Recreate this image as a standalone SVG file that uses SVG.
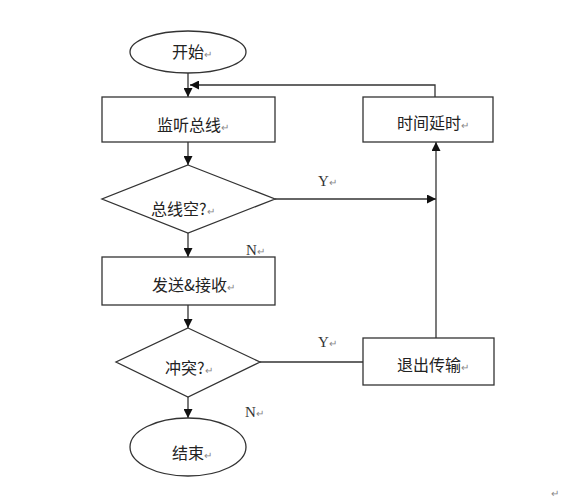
<svg xmlns="http://www.w3.org/2000/svg" width="565" height="501" viewBox="0 0 565 501">
<style>
.s{fill:#fff;stroke:#333;stroke-width:1.3}
.c{fill:none;stroke:#333;stroke-width:1.3}
.t{font-family:"Noto Sans CJK SC","Liberation Sans",sans-serif;font-size:16px;fill:#222}
.l{font-family:"Liberation Serif",serif;font-size:15px;fill:#333}
.r{font-size:10px;fill:#888}
</style>
<defs>
<marker id="a" viewBox="0 0 10 10" refX="10" refY="5" markerWidth="9" markerHeight="9" markerUnits="userSpaceOnUse" orient="auto">
<path d="M0,0L10,5L0,10z" fill="#111"/>
</marker>
</defs>
<rect width="565" height="501" fill="#fff"/>
<g id="connectors">
<line class="c" x1="188" y1="73" x2="188" y2="97" marker-end="url(#a)"/>
<polyline class="c" points="435,97 435,85 190,85" marker-end="url(#a)"/>
<line class="c" x1="188" y1="142" x2="188" y2="165" marker-end="url(#a)"/>
<line class="c" x1="275" y1="199" x2="436" y2="199" marker-end="url(#a)"/>
<line class="c" x1="188" y1="233" x2="188" y2="257" marker-end="url(#a)"/>
<line class="c" x1="188" y1="305" x2="188" y2="328" marker-end="url(#a)"/>
<line class="c" x1="260" y1="362" x2="363" y2="362"/>
<line class="c" x1="436" y1="338" x2="436" y2="142" marker-end="url(#a)"/>
<line class="c" x1="188" y1="397" x2="188" y2="418" marker-end="url(#a)"/>
<text class="l" x="318" y="186">Y<tspan class="r">↵</tspan></text>
<text class="l" x="246" y="255">N<tspan class="r">↵</tspan></text>
<text class="l" x="318" y="347">Y<tspan class="r">↵</tspan></text>
<text class="l" x="245" y="417">N<tspan class="r">↵</tspan></text>
</g>
<g id="start">
<ellipse class="s" cx="188" cy="52" rx="58" ry="21"/>
<text class="t" x="172" y="58">开始<tspan class="r">↵</tspan></text>
</g>
<g id="listen">
<rect class="s" x="102" y="97" width="173" height="45"/>
<text class="t" x="157" y="131">监听总线<tspan class="r">↵</tspan></text>
</g>
<g id="busfree">
<polygon class="s" points="188,165 275,199 188,233 102,199"/>
<text class="t" x="151" y="215">总线空?<tspan class="r">↵</tspan></text>
</g>
<g id="send">
<rect class="s" x="102" y="257" width="173" height="48"/>
<text class="t" x="152" y="291">发送&amp;接收<tspan class="r">↵</tspan></text>
</g>
<g id="collision">
<polygon class="s" points="188,328 260,362 188,397 116,362"/>
<text class="t" x="165" y="374">冲突?<tspan class="r">↵</tspan></text>
</g>
<g id="end">
<ellipse class="s" cx="188" cy="447" rx="58" ry="29"/>
<text class="t" x="172" y="459">结束<tspan class="r">↵</tspan></text>
</g>
<g id="delay">
<rect class="s" x="363" y="97" width="130" height="45"/>
<text class="t" x="397" y="129">时间延时<tspan class="r">↵</tspan></text>
</g>
<g id="quit">
<rect class="s" x="363" y="338" width="131" height="47"/>
<text class="t" x="397" y="371">退出传输<tspan class="r">↵</tspan></text>
</g>
<text class="r" x="551" y="497" style="font-family:'Liberation Sans',sans-serif">↵</text>
</svg>
